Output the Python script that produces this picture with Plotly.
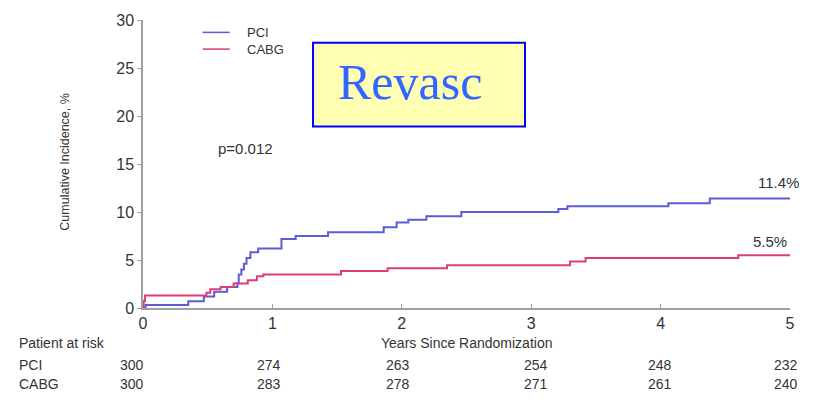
import plotly.graph_objects as go

# Kaplan-Meier style cumulative incidence of repeat revascularization
pci_years = [0, 0.02, 0.35, 0.47, 0.55, 0.65, 0.73, 0.74, 0.76, 0.78, 0.80, 0.83,
             0.89, 1.07, 1.18, 1.43, 1.86, 1.96, 2.05, 2.19, 2.46, 3.21, 3.28,
             4.06, 4.38, 5.0]
pci_pct = [0, 0.3, 0.7, 1.2, 1.7, 2.2, 2.6, 3.5, 4.0, 4.6, 5.2, 5.8,
           6.2, 7.2, 7.5, 7.9, 8.4, 8.9, 9.2, 9.55, 10.0, 10.3, 10.6,
           10.9, 11.4, 11.4]

cabg_years = [0, 0.005, 0.015, 0.49, 0.52, 0.60, 0.70, 0.81, 0.88, 0.93, 1.53,
              1.89, 2.35, 3.30, 3.42, 4.60, 5.0]
cabg_pct = [0, 0.7, 1.3, 1.6, 1.95, 2.2, 2.55, 2.9, 3.3, 3.5, 3.85,
            4.15, 4.45, 4.85, 5.2, 5.5, 5.5]

year_ticks = [0, 1, 2, 3, 4, 5]
pct_ticks = [0, 5, 10, 15, 20, 25, 30]
pci_at_risk = [300, 274, 263, 254, 248, 232]
cabg_at_risk = [300, 283, 278, 271, 261, 240]

PCI_COLOR = "#5c5cd6"
CABG_COLOR = "#dc3c78"
TXT = "#333333"
AXIS = "#a0a0a0"
FONT = "Liberation Sans, Arial, sans-serif"

fig = go.Figure()
fig.add_trace(go.Scatter(x=pci_years, y=pci_pct, mode="lines", name="PCI",
                         line=dict(color=PCI_COLOR, width=2, shape="hv"),
                         cliponaxis=False, showlegend=False))
fig.add_trace(go.Scatter(x=cabg_years, y=cabg_pct, mode="lines", name="CABG",
                         line=dict(color=CABG_COLOR, width=2, shape="hv"),
                         cliponaxis=False, showlegend=False))

fig.update_layout(
    width=827, height=404,
    margin=dict(l=143, r=37, t=16, b=96),
    plot_bgcolor="white", paper_bgcolor="white",
    font=dict(family=FONT, color=TXT),
    showlegend=False,
    xaxis=dict(range=[0, 5], tickvals=year_ticks, showline=True, linecolor=AXIS,
               linewidth=1.5, ticks="inside", ticklen=4, tickcolor=AXIS,
               showgrid=False, zeroline=False,
               tickfont=dict(size=16, color=TXT, family=FONT)),
    yaxis=dict(range=[0, 30], tickvals=pct_ticks, showline=True, linecolor=AXIS,
               linewidth=1.5, ticks="outside", ticklen=4, tickcolor=AXIS,
               showgrid=False, zeroline=False,
               tickfont=dict(size=16, color=TXT, family=FONT)),
)

# Legend: short coloured line followed by the group name
legend_rows = [("PCI", PCI_COLOR, 0.957), ("CABG", CABG_COLOR, 0.899)]
for name, color, ly in legend_rows:
    fig.add_shape(type="line", xref="paper", yref="paper",
                  x0=0.092, x1=0.134, y0=ly, y1=ly,
                  line=dict(color=color, width=1.5))
    fig.add_annotation(text=name, xref="paper", yref="paper",
                       x=0.158, y=ly, xanchor="left", yanchor="middle",
                       showarrow=False, font=dict(size=13, color=TXT))

# Axis titles
fig.add_annotation(text="Years Since Randomization", xref="paper", yref="paper",
                   x=0.5, y=-0.12, xanchor="center", yanchor="middle",
                   showarrow=False, font=dict(size=14, color=TXT))
fig.add_annotation(text="Cumulative Incidence, %", xref="paper", yref="paper",
                   x=-0.121, y=0.507, xanchor="center", yanchor="middle",
                   textangle=-90, showarrow=False, font=dict(size=12.5, color=TXT))

# Number-at-risk table
row_y = {"head": -0.12, "PCI": -0.199, "CABG": -0.264}
fig.add_annotation(text="Patient at risk", xref="paper", yref="paper",
                   x=-0.195, y=row_y["head"], xanchor="left", yanchor="middle",
                   showarrow=False, font=dict(size=14, color=TXT))
col_shift = [-11, -3, -4, 5, -1, -4]
for label, counts in (("PCI", pci_at_risk), ("CABG", cabg_at_risk)):
    fig.add_annotation(text=label, xref="paper", yref="paper",
                       x=-0.195, y=row_y[label], xanchor="left", yanchor="middle",
                       showarrow=False, font=dict(size=14, color=TXT))
    for yr, n, dx in zip(year_ticks, counts, col_shift):
        fig.add_annotation(text=str(n), xref="x", yref="paper",
                           x=yr, y=row_y[label], xanchor="center", yanchor="middle",
                           xshift=dx, showarrow=False,
                           font=dict(size=14, color=TXT))

# Final cumulative incidence labels
fig.add_annotation(text=f"{pci_pct[-1]:.1f}%", xref="paper", yref="y",
                   x=1.017, y=13.05, xanchor="right", yanchor="middle",
                   showarrow=False, font=dict(size=15, color=TXT))
fig.add_annotation(text=f"{cabg_pct[-1]:.1f}%", xref="paper", yref="y",
                   x=0.998, y=6.9, xanchor="right", yanchor="middle",
                   showarrow=False, font=dict(size=15, color=TXT))

# Log-rank p value
fig.add_annotation(text="p=0.012", xref="paper", yref="paper",
                   x=0.113, y=0.555, xanchor="left", yanchor="middle",
                   showarrow=False, font=dict(size=15, color=TXT))

# Endpoint title box
fig.add_shape(type="rect", xref="paper", yref="paper",
              x0=0.2628, x1=0.5904, y0=0.630, y1=0.921,
              fillcolor="#ffffb3", line=dict(color="#0000ff", width=2))
fig.add_annotation(text="Revasc", xref="paper", yref="paper",
                   x=0.4127, y=0.784, xanchor="center", yanchor="middle",
                   showarrow=False,
                   font=dict(size=50, color="#3366ff",
                             family="Liberation Serif, Times New Roman, serif"))

fig.write_html("out.html")
